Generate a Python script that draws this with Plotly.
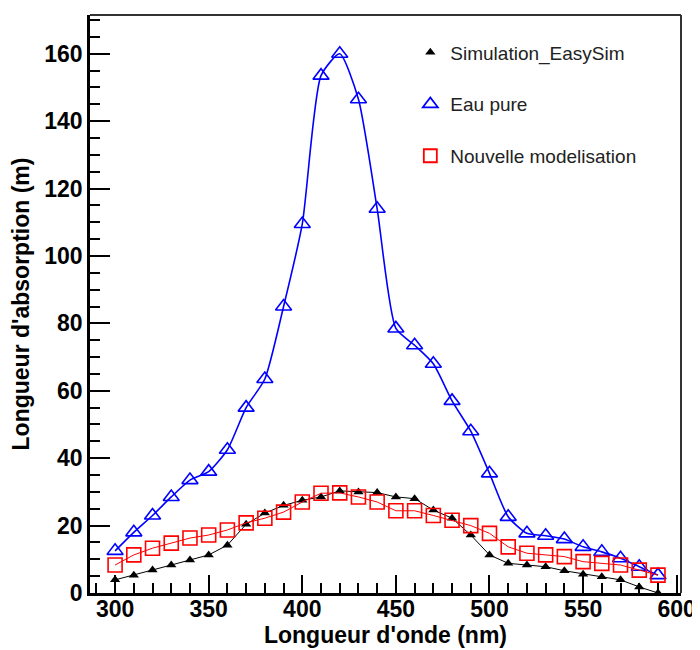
import plotly.graph_objects as go

wavelength = [300, 310, 320, 330, 340, 350, 360, 370, 380, 390,
              400, 410, 420, 430, 440, 450, 460, 470, 480, 490,
              500, 510, 520, 530, 540, 550, 560, 570, 580, 590]

simulation_easysim = [3.9, 5.3, 6.8, 8.3, 9.8, 11.3, 14.2, 20.4, 23.7, 26.0,
                      27.5, 28.5, 30.3, 30.0, 29.8, 28.5, 28.0, 24.6, 22.2, 17.2,
                      11.3, 8.8, 8.3, 7.8, 6.6, 5.6, 4.8, 3.9, 1.8, 0.0]

eau_pure = [12.5, 18.0, 23.0, 28.5, 33.5, 36.0, 42.5, 55.0, 63.5, 85.0,
            109.5, 153.5, 160.0, 146.5, 114.0, 78.5, 73.5, 68.0, 57.0, 48.0,
            35.5, 22.6, 17.7, 17.0, 16.0, 13.7, 12.2, 10.3, 7.8, 5.3]

nouvelle_modelisation = [8.3, 11.3, 13.3, 14.8, 16.3, 17.2, 18.7, 20.8, 22.2, 24.0,
                         27.0, 29.6, 29.7, 28.5, 27.0, 24.4, 24.4, 23.0, 21.6, 20.0,
                         17.7, 13.7, 11.8, 11.3, 10.8, 9.3, 8.8, 8.3, 6.8, 5.3]

x_ticks = [300, 350, 400, 450, 500, 550, 600]
y_ticks = [0, 20, 40, 60, 80, 100, 120, 140, 160]

FONT = "Liberation Sans, Arial, Helvetica, sans-serif"

series = [
    dict(name="Simulation_EasySim", y=simulation_easysim,
         line=dict(color="black", width=1),
         marker=dict(symbol="triangle-up", size=9, color="black"),
         legend_marker=dict(symbol="triangle-up", size=9, color="black")),
    dict(name="Eau pure", y=eau_pure,
         line=dict(color="#0000ff", width=1.6, shape="spline", smoothing=0.6),
         marker=dict(symbol="triangle-up-open", size=14, color="#0000ff",
                     line=dict(width=1.6, color="#0000ff")),
         legend_marker=dict(symbol="triangle-up-open", size=13, color="#0000ff",
                            line=dict(width=1.8, color="#0000ff"))),
    dict(name="Nouvelle modelisation", y=nouvelle_modelisation,
         line=dict(color="#ff0000", width=1),
         marker=dict(symbol="square-open", size=14, color="#ff0000",
                     line=dict(width=1.6, color="#ff0000")),
         legend_marker=dict(symbol="square-open", size=13, color="#ff0000",
                            line=dict(width=1.8, color="#ff0000"))),
]

fig = go.Figure()
for s in series:
    fig.add_trace(go.Scatter(
        x=wavelength, y=s["y"], name=s["name"], mode="lines+markers",
        line=s["line"], marker=s["marker"], showlegend=False,
    ))
for i, s in enumerate(series):
    # legend entry (markers only, as in the reference)
    fig.add_trace(go.Scatter(
        x=[None], y=[None], name=s["name"], mode="markers",
        marker=s["legend_marker"], legendgroup="g%d" % i, showlegend=True,
    ))

# page has an 8px body margin, so the figure is 692x642 to fit the 700x650 window
fig.update_layout(
    width=692, height=642,
    margin=dict(l=82, r=19, t=7, b=57, autoexpand=False),
    paper_bgcolor="white", plot_bgcolor="white",
    font=dict(family=FONT, color="black"),
    showlegend=True,
    legend=dict(
        x=0.542, y=0.968, xanchor="left", yanchor="top",
        bgcolor="rgba(0,0,0,0)", borderwidth=0,
        font=dict(family=FONT, size=19, color="#222222"),
        tracegroupgap=24, itemwidth=30,
    ),
    shapes=[
        dict(type="line", xref="paper", yref="paper", x0=0, x1=1, y0=1, y1=1,
             line=dict(color="#333333", width=2)),
        dict(type="line", xref="paper", yref="paper", x0=1, x1=1, y0=0, y1=1,
             line=dict(color="#333333", width=2)),
    ],
)

fig.update_xaxes(
    range=[286.6, 602.3], automargin=False,
    tickvals=x_ticks, ticktext=[str(v) for v in x_ticks],
    ticks="inside", ticklen=18, tickwidth=1.5, tickcolor="black",
    minor=dict(dtick=10, tick0=300, ticks="inside", ticklen=10, tickwidth=1.5, tickcolor="black"),
    showline=True, linecolor="black", linewidth=2.5,
    showgrid=False, zeroline=False, ticklabelstandoff=-6,
    tickfont=dict(family=FONT, size=23, color="black", weight="bold"),
    title=dict(text="Longueur d'onde (nm)", standoff=4,
               font=dict(family=FONT, size=23, color="black", weight="bold")),
)
fig.update_yaxes(
    range=[0, 171.5], automargin=False,
    tickvals=y_ticks, ticktext=[str(v) for v in y_ticks],
    ticks="inside", ticklen=20, tickwidth=1.5, tickcolor="black",
    minor=dict(dtick=5, tick0=0, ticks="inside", ticklen=10, tickwidth=1.5, tickcolor="black"),
    showline=True, linecolor="black", linewidth=2.5,
    showgrid=False, zeroline=False,
    tickfont=dict(family=FONT, size=23, color="black", weight="bold"),
    title=dict(text="Longueur d'absorption (m)", standoff=12,
               font=dict(family=FONT, size=23, color="black", weight="bold")),
)

fig.write_html("out.html")
